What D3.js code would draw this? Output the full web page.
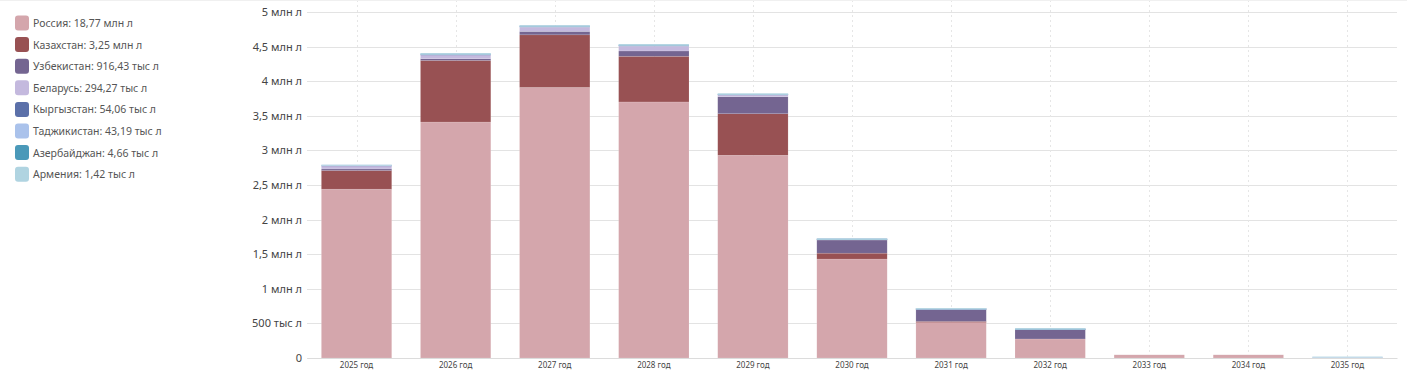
<!DOCTYPE html>
<html><head><meta charset="utf-8">
<script src="https://cdn.jsdelivr.net/npm/d3@7"></script>
<style>body{margin:0;background:#fff;font-family:"Segoe UI","Noto Sans","Open Sans",sans-serif;}</style>
</head><body><svg id="c" width="1407" height="383"></svg>
<script>
const years = ["2025 год","2026 год","2027 год","2028 год","2029 год","2030 год","2031 год","2032 год","2033 год","2034 год","2035 год"];
const seriesNames = ["Россия","Казахстан","Узбекистан","Беларусь","Кыргызстан","Таджикистан","Азербайджан","Армения"];
const legendTotals = ["18,77 млн л","3,25 млн л","916,43 тыс л","294,27 тыс л","54,06 тыс л","43,19 тыс л","4,66 тыс л","1,42 тыс л"];
const colors = ["#d4a6ac","#985153","#746591","#c4b9de","#5b70a9","#aac2eb","#4a99b9","#b0d4e1"];
// values in million litres
const russia      = [2.44,3.41,3.91,3.70,2.93,1.43,0.525,0.275,0.046,0.046,0.006];
const kazakhstan  = [0.27,0.89,0.76,0.66,0.60,0.085,0.004,0,0,0,0];
const uzbekistan  = [0.022,0.025,0.05,0.077,0.245,0.19,0.18,0.145,0,0,0];
const belarus     = [0.05,0.06,0.06,0.068,0.03,0.016,0.005,0.003,0,0,0];
const kyrgyzstan  = [0.004,0.005,0.015,0.018,0.008,0.002,0.001,0.001,0,0,0];
const tajikistan  = [0.006,0.01,0.008,0.006,0.005,0.001,0.002,0.001,0,0,0.0035];
const azerbaijan  = [0,0.0005,0.001,0.0008,0.0006,0.0004,0.0006,0.0007,0,0,0];
const armenia     = [0.001,0.001,0.001,0.0008,0.0007,0.0003,0.004,0.004,0,0,0.0114];
const yTicks = [0,0.5,1,1.5,2,2.5,3,3.5,4,4.5,5];
const yTickLabels = ["0","500 тыс л","1 млн л","1,5 млн л","2 млн л","2,5 млн л","3 млн л","3,5 млн л","4 млн л","4,5 млн л","5 млн л"];

const seriesVals = [russia,kazakhstan,uzbekistan,belarus,kyrgyzstan,tajikistan,azerbaijan,armenia];
const table = years.map((yr,i)=>{const o={year:yr}; seriesNames.forEach((s,j)=>o[s]=seriesVals[j][i]); return o;});
const stacked = d3.stack().keys(seriesNames)(table);

const svg = d3.select("#c");
const pl=307, pr=1397, pt=12, pb=358;
const x = d3.scaleBand().domain(years).range([pl,pr]).paddingInner(0.29).paddingOuter(0.145);
const y = d3.scaleLinear().domain([0,5]).range([pb,pt]);

// grid
svg.append("g").selectAll("line").data(yTicks).join("line")
  .attr("x1",pl).attr("x2",pr).attr("y1",d=>Math.round(y(d))+0.5).attr("y2",d=>Math.round(y(d))+0.5)
  .attr("stroke","#e3e3e3").attr("stroke-width",1);
svg.append("g").selectAll("line").data(years).join("line")
  .attr("x1",d=>Math.round(x(d)+x.bandwidth()/2)+0.5).attr("x2",d=>Math.round(x(d)+x.bandwidth()/2)+0.5)
  .attr("y1",0).attr("y2",pb).attr("stroke","#e6e6e6").attr("stroke-dasharray","2,3");
svg.append("line").attr("x1",0).attr("x2",1407).attr("y1",0.5).attr("y2",0.5).attr("stroke","#f0f0f0");

// y axis
const ya = svg.append("g").attr("transform",`translate(${pl},0)`)
  .call(d3.axisLeft(y).tickValues(yTicks).tickFormat((d,i)=>yTickLabels[i]).tickSize(0).tickPadding(5));
ya.select(".domain").remove();
ya.selectAll("text").attr("font-size",11).attr("fill","#444").attr("font-family","'Segoe UI','Noto Sans',sans-serif");

// bars (tiny non-zero segments get at least 1px, extending down from their true top)
svg.append("g").selectAll("g").data(stacked).join("g").attr("fill",(d,i)=>colors[i])
  .selectAll("rect").data(d=>d.filter(s=>s[1]-s[0]>0)).join("rect")
  .attr("x",d=>x(d.data.year)).attr("width",x.bandwidth())
  .attr("y",d=>y(d[1])).attr("height",d=>Math.min(pb-y(d[1]),Math.max(1,y(d[0])-y(d[1]))))
  .attr("stroke","#fff").attr("stroke-opacity",0.25).attr("stroke-width",0.5);

// x axis
const xa = svg.append("g").attr("transform",`translate(0,${pb})`)
  .call(d3.axisBottom(x).tickSize(0).tickPadding(4));
xa.select(".domain").attr("stroke","#dcdcdc");
xa.selectAll("text").attr("font-size",8).attr("fill","#444").attr("font-family","'Segoe UI','Noto Sans',sans-serif");

// legend
const lg = svg.append("g").selectAll("g").data(seriesNames).join("g")
  .attr("transform",(d,i)=>`translate(15,${15.5+i*21.6})`);
lg.append("rect").attr("width",14).attr("height",15).attr("rx",3).attr("fill",(d,i)=>colors[i]);
lg.append("text").attr("x",18).attr("y",11.5).attr("font-size",10.5).attr("fill","#555")
  .text((d,i)=>`${d}: ${legendTotals[i]}`);
</script></body></html>
